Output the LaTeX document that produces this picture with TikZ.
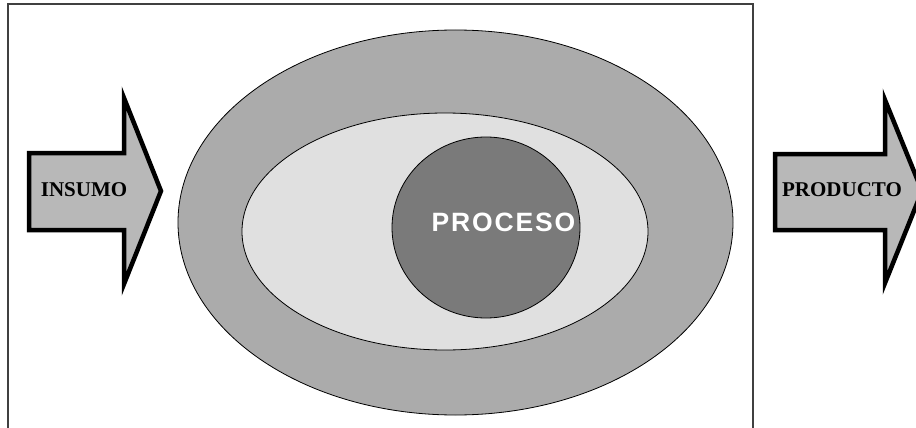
\documentclass[tikz,border=0pt]{standalone}
\usepackage{fontspec}
\setmainfont{Liberation Serif}
\newfontfamily\procfont[LetterSpace=7]{Liberation Sans Bold}
\usepackage{tikz}
\usetikzlibrary{shapes.geometric}
\usetikzlibrary{positioning}
\usetikzlibrary{calc}

\definecolor{outergray}{gray}{0.67}
\definecolor{midgray}{gray}{0.88}
\definecolor{innergray}{gray}{0.48}
\definecolor{arrowgray}{gray}{0.72}
\definecolor{framegray}{gray}{0.25}

\tikzset{
  ring/.style={ellipse, draw=black, line width=0.8pt, inner sep=0pt},
  bigarrow/.style={fill=arrowgray, draw=black, line width=4.5pt, miter limit=20},
  arrowtext/.style={font=\bfseries\fontsize{21}{21}\selectfont, inner sep=0pt}
}

\begin{document}
\begin{tikzpicture}[x=1pt,y=-1pt]
  \useasboundingbox (0,0) rectangle (916,428);
  \fill[white] (0,0) rectangle (916,428);

  % frame
  \coordinate (F1) at (8,440);
  \coordinate (F2) at (8,4);
  \coordinate (F3) at (753,4);
  \coordinate (F4) at (753,440);
  \draw[framegray, line width=1.6pt] (F1) -- (F2) -- (F3) -- (F4);

  % ellipses
  \node[ring, fill=outergray, minimum width=555pt, minimum height=385pt] (outer) at (455.5,222.5) {};
  \node[ring, fill=midgray, minimum width=406pt, minimum height=237pt] (middle) at (445,231.5) {};
  \node[ring, fill=innergray, minimum width=188pt, minimum height=181pt] (inner) at (486,227.5) {};
  \node[font=\procfont\fontsize{26.5}{26.5}\selectfont, text=white, inner sep=0pt]
       (proc) at (503.5,222.5) {PROCESO};

  % input arrow
  \coordinate (A1) at (29,153);
  \coordinate (B1) at (124,153);
  \coordinate (C1) at (124,98);
  \coordinate (D1) at (161,191);
  \draw[bigarrow] (A1) -- (B1) -- (C1) -- (D1) -- (124,284) -- (124,230) -- (29,230) -- cycle;
  \node[arrowtext] (insumo) at (84,190) {INSUMO};

  % output arrow
  \coordinate (A2) at (775,154);
  \coordinate (B2) at (885,154);
  \coordinate (C2) at (885,100);
  \coordinate (D2) at (922,191);
  \draw[bigarrow] (A2) -- (B2) -- (C2) -- (D2) -- (885,283) -- (885,230) -- (775,230) -- cycle;
  \node[arrowtext] (producto) at (842,190) {PRODUCTO};
\end{tikzpicture}
\end{document}
